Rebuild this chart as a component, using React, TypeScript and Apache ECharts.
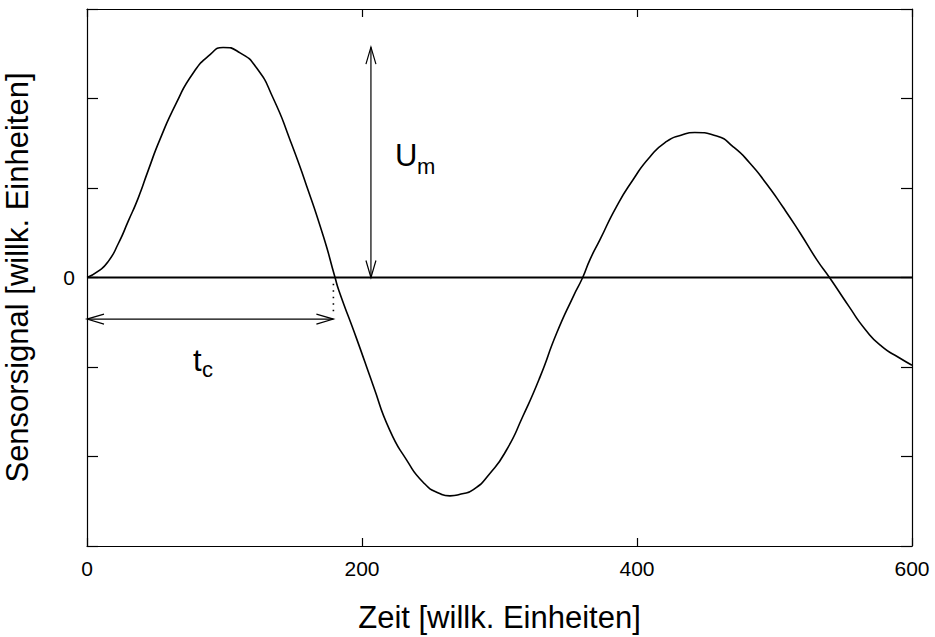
import React, { useEffect, useRef } from "react";
import * as echarts from "echarts";

// Curve samples: time (willk. Einheiten) and sensor signal
const timeValues = [
  0, 8.2, 15.5, 22.8, 30, 37.3, 44.6, 53, 65, 77, 89.5, 99, 111.3, 123.4, 135.5, 147.6, 159.8,
  171.9, 180.4, 183.3, 196, 208, 220, 232.5, 244.6, 256, 264, 272, 281, 293, 305, 317, 329.5,
  341.6, 353.7, 360.5, 365.8, 373, 385, 397, 409.5, 421.6, 432, 442, 458, 470, 482, 494, 506,
  518.5, 530.7, 540, 554, 566, 578, 591, 600,
];
const signalValues = [
  0, 0.07, 0.18, 0.38, 0.63, 0.89, 1.2, 1.54, 1.95, 2.28, 2.49, 2.57, 2.51, 2.34, 2.0, 1.54, 1.02,
  0.46, 0, -0.15, -0.68, -1.2, -1.7, -2.04, -2.29, -2.41, -2.44, -2.42, -2.37, -2.19, -1.93, -1.55,
  -1.11, -0.62, -0.21, 0, 0.2, 0.42, 0.79, 1.09, 1.35, 1.52, 1.59, 1.62, 1.58, 1.46, 1.28, 1.05,
  0.79, 0.5, 0.2, 0, -0.32, -0.58, -0.77, -0.9, -0.98,
];

// Axis settings
const xMin = 0;
const xMax = 600;
const xStep = 200;
const yMin = -3;
const yMax = 3;
const yStep = 1;
const yLabelled = [0];

// Annotations (data coordinates): [x1, y1, x2, y2]
const umArrow = [206.5, 0, 206.5, 2.574];
const tcArrow = [0, -0.465, 179.2, -0.465];
const tcDotted = [
  [179.2, -0.07],
  [179.2, -0.43],
];
const zeroLine = [
  [0, 0],
  [600, 0],
];

const xTitle = "Zeit [willk. Einheiten]";
const yTitle = "Sensorsignal [willk. Einheiten]";

const FONT = "'Liberation Sans', Arial, Helvetica, sans-serif";

export default function App() {
  const ref = useRef<HTMLDivElement>(null);

  useEffect(() => {
    if (!ref.current) return;
    const chart = echarts.init(ref.current, null, { renderer: "svg" });

    const curve = timeValues.map((t, i) => [t, signalValues[i]]);

    const axisLine = { show: true, onZero: false, lineStyle: { color: "#000", width: 1.2 } };

    const renderArrow = (params: any, api: any) => {
      const p1 = api.coord([api.value(0), api.value(1)]);
      const p2 = api.coord([api.value(2), api.value(3)]);
      const dx = p2[0] - p1[0];
      const dy = p2[1] - p1[1];
      const len = Math.sqrt(dx * dx + dy * dy) || 1;
      const ux = dx / len;
      const uy = dy / len;
      const hl = 17;
      const hw = 5;
      const style = { stroke: "#000", lineWidth: 1.2, fill: "none" };
      const head = (tip: number[], dirx: number, diry: number) => ({
        type: "polyline",
        shape: {
          points: [
            [tip[0] - dirx * hl - diry * hw, tip[1] - diry * hl + dirx * hw],
            [tip[0], tip[1]],
            [tip[0] - dirx * hl + diry * hw, tip[1] - diry * hl - dirx * hw],
          ],
        },
        style,
      });
      return {
        type: "group",
        children: [
          { type: "line", shape: { x1: p1[0], y1: p1[1], x2: p2[0], y2: p2[1] }, style },
          head(p2, ux, uy),
          head(p1, -ux, -uy),
        ],
      };
    };

    chart.setOption({
      animation: false,
      backgroundColor: "#fff",
      textStyle: { fontFamily: FONT },
      grid: {
        left: 87,
        top: 9,
        right: 23,
        bottom: 91,
        containLabel: false,
        outerBoundsMode: "none",
      },
      xAxis: [
        {
          type: "value",
          min: xMin,
          max: xMax,
          interval: xStep,
          position: "bottom",
          axisLine,
          axisTick: { show: true, inside: true, length: 8, lineStyle: { color: "#000", width: 1.2 } },
          axisLabel: { color: "#000", fontSize: 21, fontFamily: FONT, margin: 12 },
          splitLine: { show: false },
          name: xTitle,
          nameLocation: "middle",
          nameGap: 56,
          nameTextStyle: { color: "#000", fontSize: 31, fontFamily: FONT },
        },
        {
          type: "value",
          min: xMin,
          max: xMax,
          interval: xStep,
          position: "top",
          axisLine,
          axisTick: { show: true, inside: true, length: 8, lineStyle: { color: "#000", width: 1.2 } },
          axisLabel: { show: false },
          splitLine: { show: false },
        },
      ],
      yAxis: [
        {
          type: "value",
          min: yMin,
          max: yMax,
          interval: yStep,
          position: "left",
          axisLine,
          axisTick: { show: true, inside: true, length: 11, lineStyle: { color: "#000", width: 1.2 } },
          axisLabel: {
            color: "#000",
            fontSize: 21,
            fontFamily: FONT,
            margin: 12,
            formatter: (v: number) => (yLabelled.includes(v) ? String(v) : ""),
          },
          splitLine: { show: false },
          name: yTitle,
          nameLocation: "middle",
          nameGap: 54,
          nameRotate: 90,
          nameTextStyle: { color: "#000", fontSize: 31, fontFamily: FONT },
        },
        {
          type: "value",
          min: yMin,
          max: yMax,
          interval: yStep,
          position: "right",
          axisLine,
          axisTick: { show: true, inside: true, length: 11, lineStyle: { color: "#000", width: 1.2 } },
          axisLabel: { show: false },
          splitLine: { show: false },
        },
      ],
      series: [
        {
          type: "line",
          data: zeroLine,
          showSymbol: false,
          lineStyle: { color: "#000", width: 2.2 },
          silent: true,
        },
        {
          type: "line",
          data: curve,
          smooth: 0.6,
          showSymbol: false,
          lineStyle: { color: "#000", width: 1.6 },
        },
        {
          type: "line",
          data: tcDotted,
          showSymbol: false,
          lineStyle: { color: "#000", width: 1.6, type: [1.5, 5] },
        },
        {
          type: "custom",
          dimensions: ["x1", "y1", "x2", "y2"],
          encode: { x: [0, 2], y: [1, 3] },
          data: [umArrow, tcArrow],
          renderItem: renderArrow,
          clip: false,
        },
      ],
      graphic: [
        { type: "text", left: 395, top: 140, style: { text: "U", font: `31px ${FONT}`, fill: "#000" } },
        { type: "text", left: 417, top: 155, style: { text: "m", font: `22px ${FONT}`, fill: "#000" } },
        { type: "text", left: 193, top: 345, style: { text: "t", font: `31px ${FONT}`, fill: "#000" } },
        { type: "text", left: 202, top: 358, style: { text: "c", font: `22px ${FONT}`, fill: "#000" } },
      ],
    });

    return () => chart.dispose();
  }, []);

  return (
    <div
      ref={ref}
      style={{ position: "fixed", left: 0, top: 0, width: 935, height: 637, background: "#fff" }}
    />
  );
}
